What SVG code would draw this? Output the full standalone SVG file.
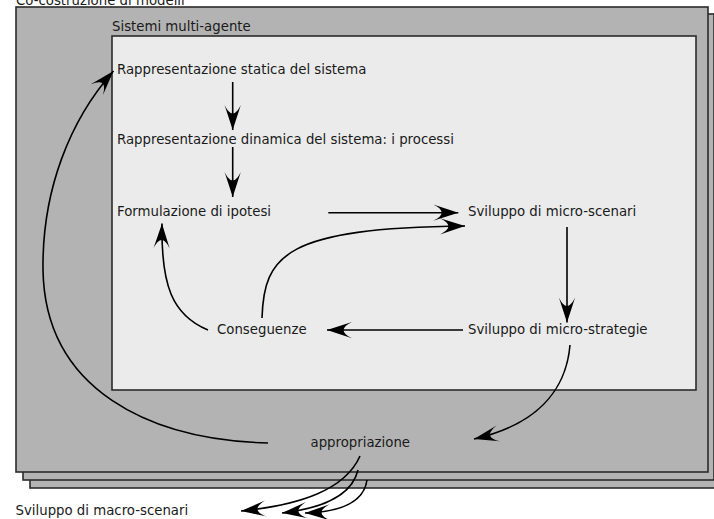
<svg xmlns="http://www.w3.org/2000/svg" width="714" height="519" viewBox="0 0 714 519">
<defs>
<style>
.lbl{font-family:"DejaVu Sans","Liberation Sans",sans-serif;font-size:13.3px;fill:#1a1a1a}
.layer{fill:#b3b3b3;stroke:#2b2b2b;stroke-width:1.6}
.inner{fill:#ebebeb;stroke:#2b2b2b;stroke-width:1.6}
.con{fill:none;stroke:#000;stroke-width:1.6;marker-end:url(#ah)}
</style>
<marker id="ah" markerUnits="userSpaceOnUse" orient="auto" refX="0" refY="0" markerWidth="30" markerHeight="30" viewBox="-22 -8 24 16" overflow="visible">
<path d="M0,0 L-20,-6.5 C-11,-2 -11,2 -20,6.5 Z" fill="#000"/>
</marker>
</defs>
<rect width="714" height="519" fill="#fff"/>
<g id="co-costruzione">
<rect class="layer" x="30" y="21" width="691" height="467"/>
<rect class="layer" x="23" y="14" width="691" height="466"/>
<rect class="layer" x="16" y="7" width="692" height="465"/>
<text class="lbl" x="16" y="4.5">Co-costruzione di modelli</text>
</g>
<g id="sistemi-multi-agente">
<rect class="inner" x="112" y="36" width="584" height="354"/>
<text class="lbl" x="112" y="31">Sistemi multi-agente</text>
</g>
<g id="n-statica"><text class="lbl" x="117" y="74">Rappresentazione statica del sistema</text></g>
<g id="n-dinamica"><text class="lbl" x="117" y="144">Rappresentazione dinamica del sistema: i processi</text></g>
<g id="n-ipotesi"><text class="lbl" x="117" y="216">Formulazione di ipotesi</text></g>
<g id="n-microscenari"><text class="lbl" x="468" y="216">Sviluppo di micro-scenari</text></g>
<g id="n-conseguenze"><text class="lbl" x="217" y="333.5">Conseguenze</text></g>
<g id="n-microstrategie"><text class="lbl" x="468" y="333.5">Sviluppo di micro-strategie</text></g>
<g id="n-appropriazione"><text class="lbl" x="310.5" y="447">appropriazione</text></g>
<g id="n-macroscenari"><text class="lbl" x="15.5" y="515">Sviluppo di macro-scenari</text></g>
<g id="connectors">
<path class="con" d="M232.7,82 L232.7,130"/>
<path class="con" d="M232.7,147 L232.7,197"/>
<path class="con" d="M328.3,212.7 L458.3,212.7"/>
<path class="con" d="M262,318 C264,255 285,228 465,226"/>
<path class="con" d="M567,227 L567,322.5"/>
<path class="con" d="M463,330 L327,330"/>
<path class="con" d="M208,330 C172,315 161,285 162,223.5"/>
<path class="con" d="M570,345 C566,392 535,425 474,439"/>
<path class="con" d="M268,443 C150,440 45,390 43,270 C42,190 70,120 113.5,71"/>
<path class="con" d="M360,456 C345,490 300,505 241,511"/>
<path class="con" d="M358,470 C352,495 325,508 282,513"/>
<path class="con" d="M367,480 C364,502 340,512 305,513"/>
</g>
</svg>
